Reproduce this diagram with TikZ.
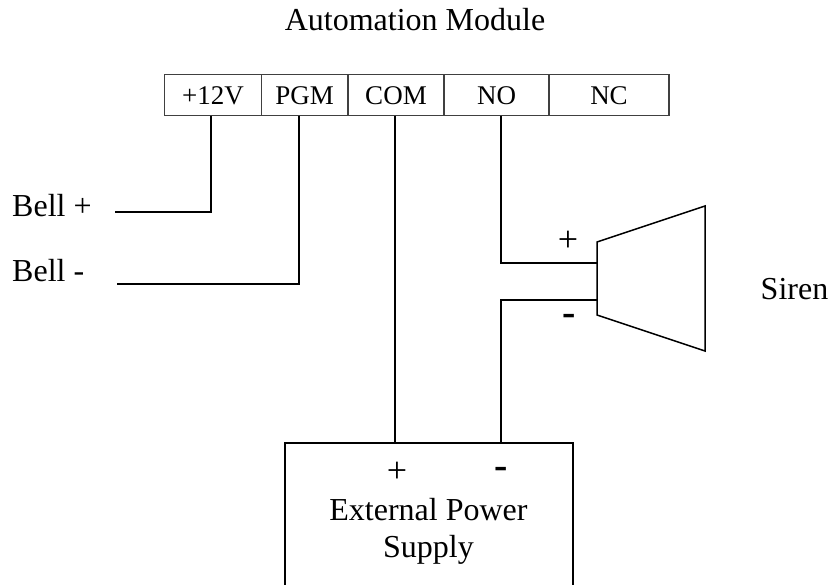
\documentclass[tikz,border=0pt]{standalone}
\usepackage{fontspec}
\setmainfont{Liberation Serif}
\begin{document}
\begin{tikzpicture}[x=1pt,y=-1pt,
  term/.style={draw=black!75,line width=1.3pt,minimum height=41pt,inner sep=0pt,outer sep=0pt,text height=18.6pt,text depth=0pt,font=\fontsize{27}{30}\selectfont},
  wire/.style={draw=black,line width=1.5pt,line cap=butt,line join=miter},
  lab/.style={inner sep=0pt,anchor=base,font=\fontsize{32}{36.6}\selectfont,align=center},
  sign/.style={inner sep=0pt,font=\fontsize{36}{38}\selectfont},
  minus/.style={inner sep=0pt,font=\bfseries\fontsize{40}{42}\selectfont}]
\useasboundingbox (0,0) rectangle (832,584);
\clip (0,0) rectangle (832,584);
\node[lab] (title) at (415,30) {Automation Module};
\node[term,minimum width=96.8pt] (t12) at (212.9,95) {+12V};
\node[term,minimum width=86.7pt] (tpgm) at (304.65,95) {PGM};
\node[term,minimum width=96pt] (tcom) at (396,95) {COM};
\node[term,minimum width=105pt] (tno) at (496.5,95) {NO};
\node[term,minimum width=120pt] (tnc) at (609,95) {NC};
\node[lab,anchor=base west] (bellplus) at (12,216) {Bell +};
\node[lab,anchor=base west] (bellminus) at (12,281.7) {Bell -};
\coordinate (bp) at (115,212);
\coordinate (bpc) at (211,212);
\coordinate (bm) at (117.3,284);
\coordinate (bmc) at (299,284);
\draw[wire] (t12.south -| bpc) -- (bpc) -- (bp);
\draw[wire] (tpgm.south -| bmc) -- (bmc) -- (bm);
% power supply
\node[draw=black,line width=1.5pt,minimum width=288pt,minimum height=170pt,inner sep=0pt,outer sep=0pt] (psu) at (429,528) {};
\node[lab] (psutext) at (428.5,557.3) {External Power\\Supply};
\node[sign] (psuplus) at (397,472) {+};
\node[minus] (psuminus) at (501,473) {-};
% siren
\coordinate (s1) at (597,242);
\coordinate (s2) at (705,206);
\coordinate (s3) at (705,351);
\coordinate (s4) at (597,315);
\draw[wire] (s1) -- (s2) -- (s3) -- (s4) -- cycle;
\coordinate (sp) at (597,263);
\coordinate (sm) at (597,300);
\coordinate (np) at (501,263);
\coordinate (nm) at (501,300);
\coordinate (cw) at (395,300);
\draw[wire] (tcom.south -| cw) -- (psu.north -| cw);
\draw[wire] (tno.south -| np) -- (np) -- (sp);
\draw[wire] (psu.north -| nm) -- (nm) -- (sm);
\node[sign] (splus) at (568,241) {+};
\node[minus] (sminus) at (569,320) {-};
\node[lab] (siren) at (794.5,299) {Siren};
\end{tikzpicture}
\end{document}
